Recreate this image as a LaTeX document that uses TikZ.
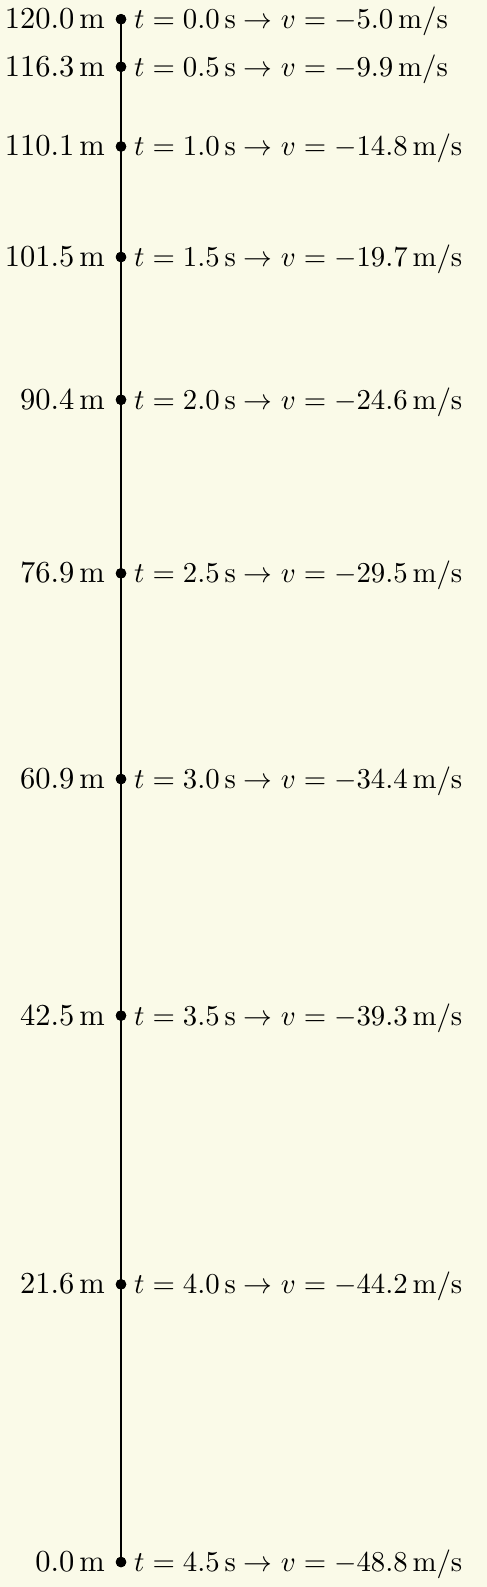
\documentclass[tikz,border=0pt]{standalone}
\usepackage{amsmath}
\definecolor{bgc}{RGB}{250,250,232}
\tikzset{
  dotnode/.style={circle,fill=black,inner sep=0pt,minimum size=10.5pt},
  leftlab/.style={anchor=base east,inner sep=0pt},
  rightlab/.style={anchor=base west,inner sep=0pt},
  axisline/.style={line width=2pt}
}
\newcommand{\lefttxt}[1]{\scalebox{3.05}{#1}}
\newcommand{\righttxt}[1]{\scalebox{2.88}{#1}}
\begin{document}
\begin{tikzpicture}[x=1pt,y=1pt]
\fill[bgc] (0,0) rectangle (487,-1587);
\useasboundingbox (0,0) rectangle (487,-1587);
\foreach \i/\h in {0/120.0, 1/116.3, 2/110.1, 3/101.5, 4/90.4, 5/76.9, 6/60.9, 7/42.5, 8/21.6, 9/0.0}{
  \pgfmathsetmacro{\yy}{-(19.2+(120-\h)*12.857)}
  \node[dotnode] (d\i) at (121,\yy) {};
}
\draw[axisline] (d0.center) -- (d9.center);
\foreach \i/\h/\t/\v in {0/120.0/0.0/5.0, 1/116.3/0.5/9.9, 2/110.1/1.0/14.8, 3/101.5/1.5/19.7, 4/90.4/2.0/24.6, 5/76.9/2.5/29.5, 6/60.9/3.0/34.4, 7/42.5/3.5/39.3, 8/21.6/4.0/44.2, 9/0.0/4.5/48.8}{
  \node[dotnode] at (d\i) {};
  \node[leftlab] (l\i) at ([xshift=-16pt,yshift=-9.5pt]d\i.center) {\lefttxt{$\h\,\mathrm{m}$}};
  \node[rightlab] (r\i) at ([xshift=13pt,yshift=-9.5pt]d\i.center) {\righttxt{$t = \t\,\mathrm{s} \rightarrow v = -\v\,\mathrm{m/s}$}};
}
\end{tikzpicture}
\end{document}
